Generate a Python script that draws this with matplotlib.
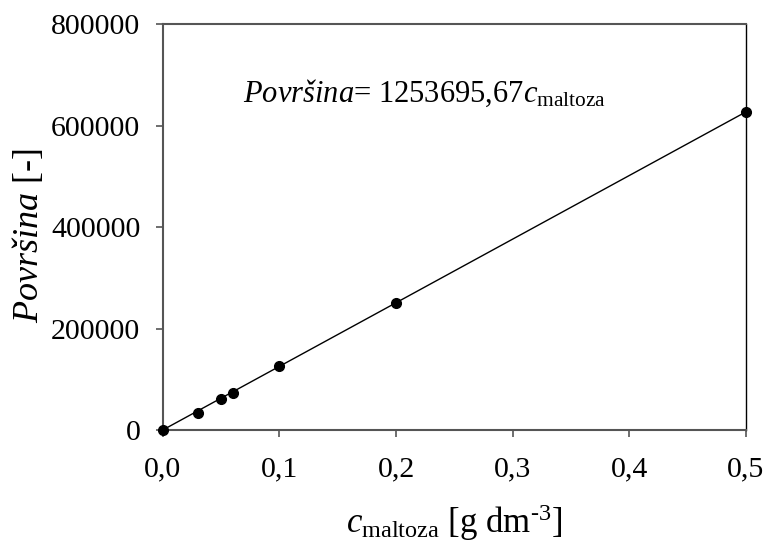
import numpy as np
import matplotlib
matplotlib.use("Agg")
import matplotlib.pyplot as plt

# Serif font + custom mathtext so the italic pieces match
plt.rcParams['font.family'] = ['Liberation Serif', 'DejaVu Serif']
plt.rcParams['mathtext.fontset'] = 'custom'
plt.rcParams['mathtext.rm'] = 'Liberation Serif'
plt.rcParams['mathtext.it'] = 'Liberation Serif:italic'

# data
c_maltoza = [0.0, 0.03, 0.05, 0.06, 0.1, 0.2, 0.5]
povrsina = [0, 34100, 60500, 73500, 126000, 250500, 627000]
slope = 1253695.67

x_ticks = [0.0, 0.1, 0.2, 0.3, 0.4, 0.5]
x_tick_labels = ["0,0", "0,1", "0,2", "0,3", "0,4", "0,5"]
y_ticks = [0, 200000, 400000, 600000, 800000]
y_tick_labels = ["0", "200000", "400000", "600000", "800000"]

fig = plt.figure(figsize=(7.69, 5.48), dpi=100)
ax = fig.add_axes([0.2116, 0.2153, 0.7584, 0.7409])

# fit line through origin
fit_x = np.array([0.0, 0.5])
ax.plot(fit_x, slope * fit_x, color='black', linewidth=1.0, zorder=2)
ax.plot(c_maltoza, povrsina, 'o', color='black', markersize=7, zorder=3, clip_on=False)

ax.set_xlim(0, 0.5)
ax.set_ylim(0, 800000)
ax.set_xticks(x_ticks)
ax.set_xticklabels(x_tick_labels)
ax.set_yticks(y_ticks)
ax.set_yticklabels(y_tick_labels)
ax.tick_params(axis='both', labelsize=21.5, direction='out', length=5, width=1.2, color='#555555')
ax.tick_params(axis='x', pad=14)
ax.tick_params(axis='y', pad=11)

for side in ['left', 'bottom', 'top']:
    ax.spines[side].set_color('#555555')
    ax.spines[side].set_linewidth(1.5)
ax.spines['right'].set_color('black')
ax.spines['right'].set_linewidth(1.0)

ax.set_xlabel(r"$\mathit{c}_{\mathrm{maltoza}}$ [g dm$^{\text{-3}}$]", fontsize=25, labelpad=14)
ax.set_ylabel(r"$\mathit{Površina}$ [-]", fontsize=26)
ax.yaxis.set_label_coords(-0.20, 0.48)

ax.text(0.069, 646000, r"$\mathit{Površina}$= 1253695,67$\mathit{c}_{\mathrm{maltoza}}$",
        fontsize=22, ha='left', va='baseline')

fig.savefig("out.png", dpi=100)
